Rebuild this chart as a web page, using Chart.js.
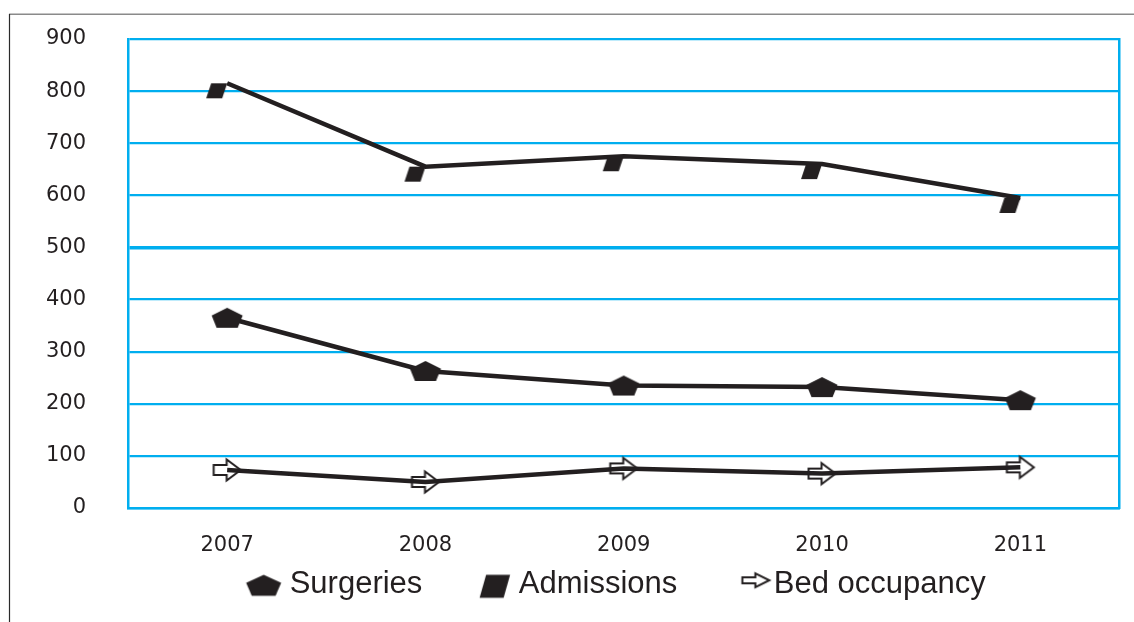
<!DOCTYPE html>
<html>
<head>
<meta charset="utf-8">
<title>Surgeries, admissions and bed occupancy 2007–2011</title>
<script src="https://cdn.jsdelivr.net/npm/chart.js@4.4.1/dist/chart.umd.min.js"></script>
<style>
  html, body { margin: 0; padding: 0; background: #ffffff; }
  #wrap { position: relative; width: 1134px; height: 622px; }
  canvas { display: block; }
</style>
</head>
<body>
<div id="wrap"><canvas id="chart" width="1134" height="622"></canvas></div>
<script>
// Categories and series
const years = ['2007', '2008', '2009', '2010', '2011'];
const surgeries = [365, 263, 235, 232, 207];
const admissions = [815, 655, 675, 660, 595];
const bedOccupancy = [73, 50, 76, 66, 78];
const seriesNames = ['Surgeries', 'Admissions', 'Bed occupancy'];

// Value axis tick labels
const yTickValues = [0, 100, 200, 300, 400, 500, 600, 700, 800, 900];

const INK = '#231f20';
const BLUE = '#00aeef';

// --- marker shapes drawn onto small canvases (used as point styles) ---
function makeIcon(w, h, draw) {
  const c = document.createElement('canvas');
  c.width = w; c.height = h;
  const ctx = c.getContext('2d');
  draw(ctx, w / 2, h / 2);
  return c;
}
function pentagon(ctx, cx, cy, w, h) {
  ctx.beginPath();
  ctx.moveTo(cx, cy - h / 2);
  ctx.lineTo(cx + w / 2, cy - h * 0.115);
  ctx.lineTo(cx + w * 0.34, cy + h / 2);
  ctx.lineTo(cx - w * 0.34, cy + h / 2);
  ctx.lineTo(cx - w / 2, cy - h * 0.115);
  ctx.closePath();
  ctx.fillStyle = INK;
  ctx.fill();
}
// parallelogram hanging from its top-right corner (tx, ty)
function parallelogram(ctx, tx, ty, top, h, skew) {
  ctx.beginPath();
  ctx.moveTo(tx, ty);
  ctx.lineTo(tx - skew, ty + h);
  ctx.lineTo(tx - skew - top, ty + h);
  ctx.lineTo(tx - top, ty);
  ctx.closePath();
  ctx.fillStyle = INK;
  ctx.fill();
}
function arrow(ctx, cx, cy, w, h, shaftH, shaftLen, fill) {
  const x0 = cx - w / 2;
  ctx.beginPath();
  ctx.moveTo(x0, cy - shaftH / 2);
  ctx.lineTo(x0 + shaftLen, cy - shaftH / 2);
  ctx.lineTo(x0 + shaftLen, cy - h / 2);
  ctx.lineTo(x0 + w, cy);
  ctx.lineTo(x0 + shaftLen, cy + h / 2);
  ctx.lineTo(x0 + shaftLen, cy + shaftH / 2);
  ctx.lineTo(x0, cy + shaftH / 2);
  ctx.closePath();
  if (fill) { ctx.fillStyle = fill; ctx.fill(); }
  ctx.lineWidth = 2;
  ctx.lineJoin = 'miter';
  ctx.strokeStyle = INK;
  ctx.stroke();
}

// point markers on the lines
const pentPoint = makeIcon(36, 26, (ctx, cx, cy) => pentagon(ctx, cx, cy, 31, 20));
const paraPoint = makeIcon(50, 40, (ctx, cx, cy) => parallelogram(ctx, cx, cy, 16, 15, 5));
const arrowPoint = makeIcon(34, 28, (ctx, cx, cy) => arrow(ctx, cx, cy, 27, 21, 10, 13, null));

// legend markers (drawn off-centre so they sit just before their text)
const pentLegend = makeIcon(100, 30, (ctx, cx, cy) => pentagon(ctx, cx + 30, cy + 1, 35, 21));
const paraLegend = makeIcon(110, 40, (ctx, cx, cy) => parallelogram(ctx, cx + 32 + 15.25, cy + 2 - 11.5, 24, 23, 6.5));
const arrowLegend = makeIcon(120, 34, (ctx, cx, cy) => arrow(ctx, cx + 38, cy - 4, 27, 14, 6, 13, '#ffffff'));
const legendIcons = [pentLegend, paraLegend, arrowLegend];

// outer frame (top and left rules around the figure)
const framePlugin = {
  id: 'frame',
  beforeDraw(chart) {
    const ctx = chart.ctx;
    ctx.save();
    ctx.lineWidth = 1.5;
    ctx.strokeStyle = '#8a8a8a';
    ctx.beginPath();
    ctx.moveTo(9, 14.25);
    ctx.lineTo(1134, 14.25);
    ctx.stroke();
    ctx.lineWidth = 1.2;
    ctx.strokeStyle = '#2a2a2a';
    ctx.beginPath();
    ctx.moveTo(9.5, 14);
    ctx.lineTo(9.5, 622);
    ctx.stroke();
    ctx.restore();
  }
};

const lineStyle = {
  borderColor: INK,
  backgroundColor: INK,
  borderWidth: 4.5,
  tension: 0,
  fill: false,
  pointRadius: 10,
  pointHoverRadius: 10,
  clip: false
};

const PAD_LEFT = 45;

new Chart(document.getElementById('chart'), {
  type: 'line',
  data: {
    labels: years,
    datasets: [
      Object.assign({ label: seriesNames[0], data: surgeries, pointStyle: pentPoint }, lineStyle),
      Object.assign({ label: seriesNames[1], data: admissions, pointStyle: paraPoint }, lineStyle),
      Object.assign({ label: seriesNames[2], data: bedOccupancy, pointStyle: arrowPoint }, lineStyle)
    ]
  },
  options: {
    responsive: false,
    animation: false,
    devicePixelRatio: 1,
    layout: { padding: { left: PAD_LEFT, right: 0, top: 39, bottom: 12.2 } },
    plugins: {
      tooltip: { enabled: false },
      legend: {
        position: 'bottom',
        align: 'center',
        labels: {
          usePointStyle: true,
          pointStyleWidth: 81,
          padding: 0,
          color: INK,
          font: { family: '"Liberation Sans", Arial, sans-serif', size: 31 },
          generateLabels(chart) {
            return chart.data.datasets.map((ds, i) => ({
              text: ds.label,
              pointStyle: legendIcons[i],
              fillStyle: INK,
              strokeStyle: INK,
              lineWidth: 0,
              fontColor: INK,
              hidden: false,
              datasetIndex: i
            }));
          }
        }
      }
    },
    scales: {
      x: {
        type: 'category',
        offset: true,
        grid: { display: false, drawTicks: false },
        border: { display: true, color: BLUE, width: 2.5 },
        ticks: {
          color: INK,
          padding: 25.3,
          maxRotation: 0,
          font: { family: '"DejaVu Sans", sans-serif', size: 21 }
        },
        afterFit(scale) { scale.height = 60.8; }
      },
      y: {
        type: 'linear',
        min: yTickValues[0],
        max: yTickValues[yTickValues.length - 1],
        afterBuildTicks(scale) { scale.ticks = yTickValues.map(v => ({ value: v })); },
        grid: {
          drawTicks: false,
          color: BLUE,
          lineWidth: (ctx) => (ctx.tick && ctx.tick.value === 500 ? 3.5 : 2.2)
        },
        border: { display: true, color: BLUE, width: 2.5 },
        ticks: {
          color: INK,
          padding: 42,
          font: { family: '"DejaVu Sans", sans-serif', size: 21 }
        },
        afterFit(scale) {
          scale.width = 128 - PAD_LEFT;
          scale.paddingTop = 0;
          scale.paddingBottom = 0;
        }
      },
      yRight: {
        type: 'linear',
        position: 'right',
        display: true,
        grid: { display: false, drawTicks: false },
        border: { display: true, color: BLUE, width: 2.5 },
        ticks: { display: false },
        afterFit(scale) { scale.width = 8; }
      }
    }
  },
  plugins: [framePlugin]
});
</script>
</body>
</html>
